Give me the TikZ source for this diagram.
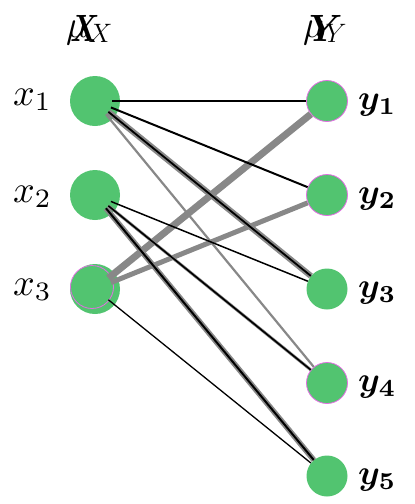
\RequirePackage{fix-cm}
\documentclass[tikz,border=0pt]{standalone}
\usepackage{amsmath,amsbsy}
\usepackage{graphicx}
\definecolor{ngreen}{RGB}{82,196,112}
\definecolor{egray}{RGB}{136,136,136}
\definecolor{rim}{RGB}{226,110,226}
\newcommand{\bigxlbl}[1]{\scalebox{3.8}{$#1$}}
\newcommand{\bigylbl}[1]{\scalebox{3.5}{$\boldsymbol{#1}$}}
\tikzset{
  xnode/.style={circle, fill=ngreen, minimum size=50pt, inner sep=0pt},
  ynode/.style={circle, fill=ngreen, minimum size=41pt, inner sep=0pt},
  rimmed/.style={draw=rim, line width=0.8pt},
  xport/.style={circle, minimum size=34pt, inner sep=0pt},
  lbl/.style={inner sep=0pt},
  toplbl/.style={inner sep=0pt, font=\fontsize{38}{44}\selectfont},
  gedge/.style={draw=egray, line cap=butt},
  bedge/.style={draw=black, line cap=butt},
}
\begin{document}
\begin{tikzpicture}[x=1pt,y=-1pt]
\useasboundingbox (0,0) rectangle (415,504);
% x nodes
\node[xnode] (x1) at (95,101) {};
\node[xnode] (x2) at (95,195) {};
\node[xnode] (x3) at (95,289) {};
\node[circle, inner sep=0pt, minimum size=43pt, rimmed] (x3rim) at (92,287) {};
\node[xport] (p1) at (95,101) {};
\node[xport] (p2) at (95,195) {};
\node[xport] (p3) at (95,289) {};
% y nodes
\node[ynode, rimmed] (y1) at (327,101) {};
\node[ynode, rimmed] (y2) at (327,195) {};
\node[ynode] (y3) at (327,289) {};
\node[ynode, rimmed] (y4) at (327,383) {};
\node[ynode] (y5) at (327,476) {};
% gray edges
\draw[gedge, line width=7pt] (p3) -- (y1);
\draw[gedge, line width=5pt] (p3) -- (y2);
\draw[gedge, line width=6pt] (p1) -- (y3);
\draw[gedge, line width=2.2pt] (p1) -- (y4);
\draw[gedge, line width=3pt] (p2) -- (y4);
\draw[gedge, line width=5.5pt] (p2) -- (y5);
% black edges
\draw[bedge, line width=1.3pt] (p1) -- (y1);
\draw[bedge, line width=2pt] (p1) -- (y2);
\draw[bedge, line width=1.8pt] (p1) -- (y3);
\draw[bedge, line width=1.5pt] (p2) -- (y3);
\draw[bedge, line width=1.6pt] (p2) -- (y4);
\draw[bedge, line width=2pt] (p2) -- (y5);
\draw[bedge, line width=1.3pt] (p3) -- (y5);
% labels
\node[lbl, anchor=base west] (lx1) at (13,105) {\bigxlbl{x_1}};
\node[lbl, anchor=base west] (lx2) at (13,202) {\bigxlbl{x_2}};
\node[lbl, anchor=base west] (lx3) at (13,295) {\bigxlbl{x_3}};
\node[lbl, anchor=base west] (ly1) at (358,109) {\bigylbl{y_1}};
\node[lbl, anchor=base west] (ly2) at (358,203) {\bigylbl{y_2}};
\node[lbl, anchor=base west] (ly3) at (358,297) {\bigylbl{y_3}};
\node[lbl, anchor=base west] (ly4) at (358,391) {\bigylbl{y_4}};
\node[lbl, anchor=base west] (ly5) at (358,484) {\bigylbl{y_5}};
% top labels
\node[toplbl, anchor=base west] (mux) at (66,37) {$\mu_X$};
\node[toplbl, anchor=base] (bx) at (85,41) {\scalebox{0.75}[1]{$\boldsymbol{X}$}};
\node[toplbl, anchor=base west] (muy) at (303,37) {$\mu_Y$};
\node[toplbl, anchor=base] (by) at (326,41) {\scalebox{0.95}[1]{$\boldsymbol{Y}$}};
\end{tikzpicture}
\end{document}
